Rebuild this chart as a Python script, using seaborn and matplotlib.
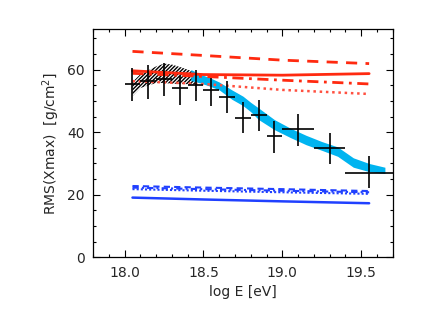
import numpy as np
import pandas as pd
import matplotlib
matplotlib.use("Agg")
import matplotlib.pyplot as plt
import seaborn as sns

# ---- data ----
pt_x = [18.05, 18.15, 18.25, 18.35, 18.45, 18.55, 18.65, 18.75, 18.85, 18.95, 19.1, 19.3, 19.55]
pt_y = [55.4, 56.3, 57.0, 54.1, 55.0, 53.6, 51.3, 44.5, 45.4, 38.7, 41.0, 35.1, 26.9]
pt_xlo = [0.05, 0.05, 0.05, 0.05, 0.05, 0.05, 0.05, 0.05, 0.05, 0.05, 0.1, 0.1, 0.15]
pt_xhi = [0.05, 0.05, 0.05, 0.05, 0.05, 0.05, 0.05, 0.05, 0.05, 0.05, 0.1, 0.1, 0.15]
pt_ylo = [5.4, 5.6, 5.3, 5.3, 5.1, 5.3, 5.2, 4.8, 5.1, 5.2, 5.3, 5.2, 4.8]
pt_yhi = [5.2, 5.0, 5.1, 3.8, 5.0, 3.7, 5.0, 5.0, 5.0, 4.8, 4.8, 4.6, 5.4]

hatch_x = [18.05, 18.1, 18.2, 18.25, 18.3, 18.37, 18.45]
hatch_hi = [56.0, 58.5, 61.0, 61.9, 61.6, 60.5, 59.0]
hatch_lo = [51.5, 54.1, 55.7, 55.7, 55.5, 55.4, 55.2]

band_x = [18.42, 18.48, 18.54, 18.6, 18.68, 18.75, 18.8, 18.85, 18.95, 19.05, 19.15, 19.25, 19.35, 19.45, 19.55, 19.65]
band_hi = [60.0, 58.5, 57.4, 56.0, 53.5, 51.5, 49.5, 47.7, 44.0, 41.3, 39.0, 37.0, 35.3, 31.8, 30.0, 28.8]
band_lo = [56.5, 55.7, 54.7, 53.5, 50.5, 48.5, 46.5, 44.0, 40.8, 38.3, 36.0, 34.2, 32.3, 28.8, 27.4, 26.8]

model_x = [18.05, 18.5, 19.0, 19.55]
red_solid = [59.6, 58.4, 58.2, 58.7]
red_dash = [65.8, 64.5, 63.0, 61.9]
red_dashdot = [58.8, 57.8, 56.6, 55.4]
red_dot = [56.3, 55.4, 53.5, 52.2]
blue_solid = [19.1, 18.5, 17.9, 17.3]
blue_dash = [22.8, 22.3, 21.8, 21.2]
blue_dashdot = [22.3, 21.8, 21.3, 20.8]
blue_dot = [21.8, 21.3, 20.8, 20.3]

sns.set_style("ticks")
plt.rcParams['font.family'] = ['DejaVu Sans']
plt.rcParams['hatch.linewidth'] = 1.0

fig = plt.figure(figsize=(4.21, 3.17), dpi=100)
ax = fig.add_axes([0.221, 0.188, 0.712, 0.721])

# hatched band
ax.fill_between(hatch_x, hatch_lo, hatch_hi, facecolor='none', edgecolor='black',
                hatch='/////////', linewidth=0)
# blue band
ax.fill_between(band_x, band_lo, band_hi, color='#00B4F0', linewidth=0)

red = '#FF2A10'
blue = '#2040FF'
sns.lineplot(x=model_x, y=red_solid, ax=ax, color=red, lw=2.0)
sns.lineplot(x=model_x, y=red_dash, ax=ax, color=red, lw=2.0, linestyle=(0, (4, 3)))
sns.lineplot(x=model_x, y=red_dashdot, ax=ax, color=red, lw=2.0, linestyle=(0, (4, 2, 1, 2)))
sns.lineplot(x=model_x, y=red_dot, ax=ax, color='#FF5040', lw=1.8, linestyle=(0, (1, 1.5)))
sns.lineplot(x=model_x, y=blue_solid, ax=ax, color=blue, lw=1.8)
sns.lineplot(x=model_x, y=blue_dash, ax=ax, color=blue, lw=1.5, linestyle=(0, (3, 2)))
sns.lineplot(x=model_x, y=blue_dashdot, ax=ax, color=blue, lw=1.5, linestyle=(0, (3, 1.5, 1, 1.5)))
sns.lineplot(x=model_x, y=blue_dot, ax=ax, color=blue, lw=1.5, linestyle=(0, (1, 1)))

ax.errorbar(pt_x, pt_y, xerr=[pt_xlo, pt_xhi], yerr=[pt_ylo, pt_yhi], fmt='none',
            ecolor='black', elinewidth=1.2, capsize=0, zorder=5)

ax.set_xlim(17.8, 19.7)
ax.set_ylim(0, 73)
ax.set_xticks([18.0, 18.5, 19.0, 19.5])
ax.set_xticklabels(['18.0', '18.5', '19.0', '19.5'])
ax.set_xticks(np.arange(17.8, 19.71, 0.1), minor=True)
ax.set_yticks([0, 20, 40, 60])
ax.set_yticks(np.arange(0, 73, 5), minor=True)
ax.tick_params(which='both', direction='in', top=True, right=True, color='black', width=0.8)
ax.tick_params(which='major', length=5, labelsize=10, pad=6)
ax.tick_params(which='minor', length=2.5)
for s in ax.spines.values():
    s.set_linewidth(0.9)
    s.set_color('black')
ax.set_xlabel('log E [eV]', fontsize=10)
ax.set_ylabel('RMS(Xmax)  [g/cm$^2$]', fontsize=10)

fig.savefig('out.png', dpi=100)
